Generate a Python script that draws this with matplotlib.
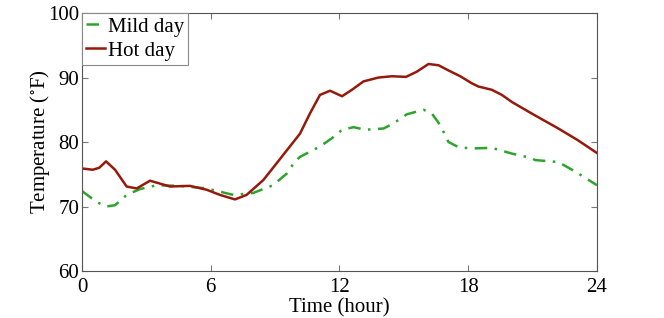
import numpy as np
import matplotlib
matplotlib.use('Agg')
import matplotlib.pyplot as plt

plt.rcParams['font.family'] = ['Liberation Serif', 'DejaVu Serif']
plt.rcParams['mathtext.fontset'] = 'stix'

# hot day temperature profile (hour, degF)
hot_hour = [0.0, 0.5, 0.8, 1.12, 1.54, 2.08, 2.55, 3.17, 3.48, 4.1, 5.03, 5.81,
            6.43, 7.13, 7.67, 8.45, 9.07, 10.16, 10.62, 11.09, 11.56, 12.12,
            12.58, 13.12, 13.82, 14.45, 15.1, 15.6, 16.15, 16.62, 17.08, 17.63,
            18.17, 18.48, 19.1, 19.57, 20.04, 20.97, 22.2, 23.1, 24.0]
hot_temp = [75.9, 75.7, 76.0, 77.0, 75.7, 73.1, 72.8, 74.0, 73.7, 73.1, 73.2, 72.6,
            71.8, 71.1, 71.8, 74.1, 76.7, 81.3, 84.4, 87.3, 87.95, 87.1,
            88.1, 89.4, 90.0, 90.2, 90.1, 90.9, 92.1, 91.9, 91.1, 90.2,
            89.1, 88.6, 88.1, 87.3, 86.2, 84.4, 82.1, 80.3, 78.3]

# mild day temperature profile
mild_hour = [0.0, 0.68, 1.12, 1.54, 2.08, 2.7, 3.48, 4.57, 5.81, 7.05, 7.98, 8.9,
             9.54, 9.93, 10.16, 11.09, 11.65, 12.12, 12.66, 13.2, 14.06, 14.52,
             15.14, 15.92, 16.31, 16.7, 17.08, 17.55, 18.17, 19.1, 20.04, 20.97,
             21.12, 22.2, 23.0, 24.0]
mild_temp = [72.4, 70.7, 70.0, 70.2, 71.8, 72.7, 73.3, 73.2, 72.8, 71.8, 72.1, 73.3,
             75.1, 77.0, 77.7, 79.3, 80.6, 81.9, 82.3, 81.9, 82.1, 82.9,
             84.3, 85.0, 84.4, 82.6, 80.0, 79.2, 79.0, 79.1, 78.2, 77.5,
             77.2, 76.9, 75.4, 73.3]

xticks = [0, 6, 12, 18, 24]
yticks = [60, 70, 80, 90, 100]

fig = plt.figure(figsize=(6.64, 3.18), dpi=100)
ax = fig.add_axes([0.1235, 0.1478, 0.7755, 0.8112])

ax.plot(mild_hour, mild_temp, color='#2EA32E', linewidth=1.8,
        linestyle=(0, (5, 3, 1, 3)), label='Mild day')
ax.plot(hot_hour, hot_temp, color='#951A0C', linewidth=1.8,
        label='Hot day')

ax.set_xlim(0, 24)
ax.set_ylim(60, 100)
ax.set_xticks(xticks)
ax.set_yticks(yticks)
ax.tick_params(direction='in', top=True, right=True, labelsize=15,
               length=4, color='#777777')
ax.tick_params(axis='x', pad=5)
ax.tick_params(axis='y', pad=2)
for s in ax.spines.values():
    s.set_color('#555555')
    s.set_linewidth(0.8)

ax.set_xlabel('Time (hour)', fontsize=15, labelpad=1)
ax.set_ylabel(r'Temperature ($^{\circ}$F)', fontsize=15, labelpad=-3)

leg = ax.legend(loc='upper left', fontsize=15, handlelength=0.9,
                handletextpad=0.15, borderpad=0.2, borderaxespad=0,
                labelspacing=0.2, fancybox=False, framealpha=1)
leg.get_frame().set_edgecolor('#888888')
leg.get_frame().set_linewidth(0.8)

fig.savefig('out.png', dpi=100)
